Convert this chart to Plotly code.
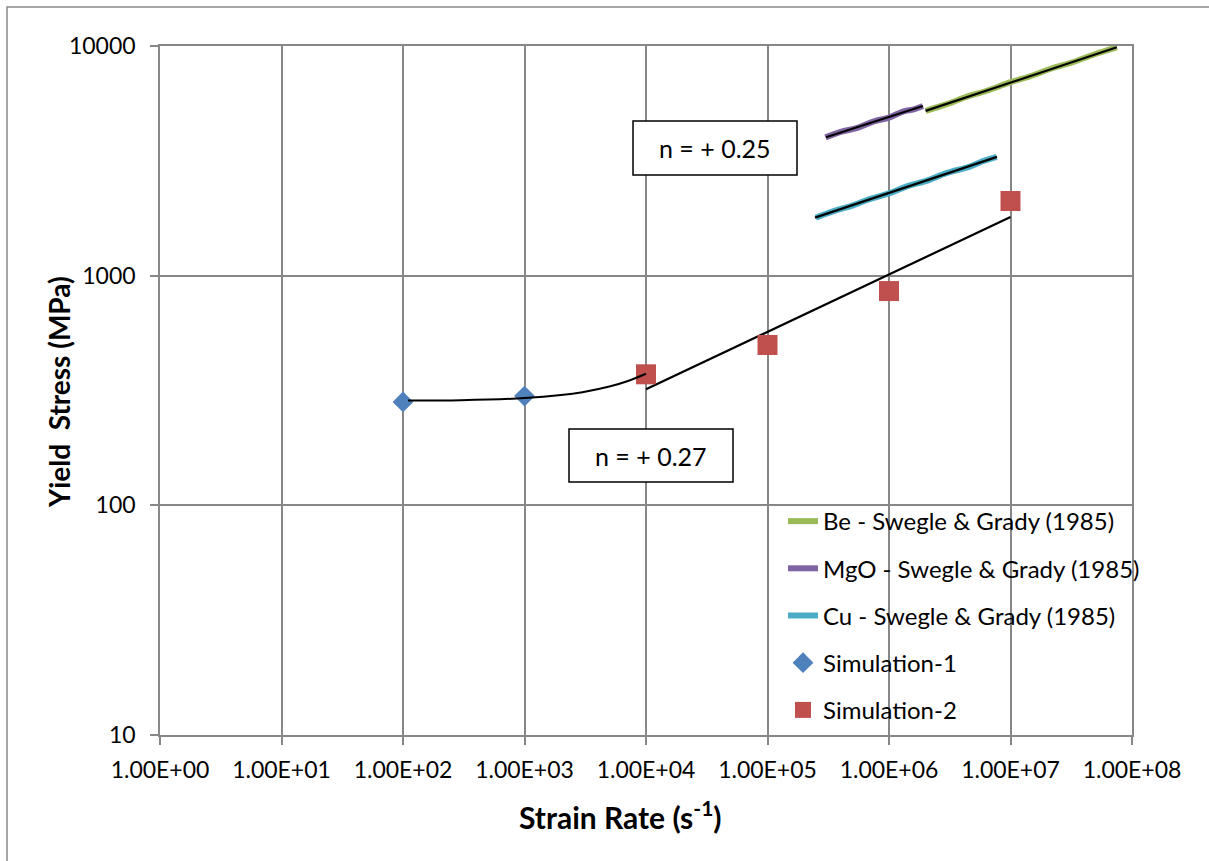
import plotly.graph_objects as go

# ---------------- data ----------------
sim1_rate = [1e2, 1e3]
sim1_stress = [282, 299]

sim2_rate = [1e4, 1e5, 1e6, 1e7]
sim2_stress = [372, 499, 857, 2114]

be_rate = [2.0e6, 3.0e6, 4.5e6, 6.5e6, 1.0e7, 1.5e7, 2.2e7, 3.3e7, 5.0e7, 7.5e7]
be_stress = [5220, 5580, 6050, 6400, 6960, 7420, 8000, 8520, 9230, 9870]

mgo_rate = [3.0e5, 4.0e5, 5.5e5, 7.5e5, 1.0e6, 1.3e6, 1.6e6, 1.9e6]
mgo_stress = [4000, 4230, 4400, 4700, 4880, 5180, 5300, 5480]

cu_rate = [2.5e5, 3.5e5, 5.0e5, 7.0e5, 1.0e6, 1.4e6, 2.0e6, 3.0e6, 4.5e6, 6.0e6, 7.7e6]
cu_stress = [1790, 1910, 2020, 2160, 2280, 2450, 2580, 2800, 2970, 3160, 3290]

# trend lines
fit1_rate = [110, 300, 1000, 2000, 3000, 5000, 7000, 10000]
fit1_stress = [286, 287, 293, 302, 311, 329, 347, 374]
fit2_rate = [1e4, 1e7]
fit2_stress = [320, 1800]
be_fit_rate = [2.0e6, 7.5e7]
be_fit_stress = [5220, 9870]
mgo_fit_rate = [3.03e5, 1.9e6]
mgo_fit_stress = [4005, 5483]
cu_fit_rate = [2.46e5, 7.74e6]
cu_fit_stress = [1789, 3290]

x_tickvals = [1e0, 1e1, 1e2, 1e3, 1e4, 1e5, 1e6, 1e7, 1e8]
x_ticktext = ["1.00E+00", "1.00E+01", "1.00E+02", "1.00E+03", "1.00E+04",
              "1.00E+05", "1.00E+06", "1.00E+07", "1.00E+08"]
y_tickvals = [10, 100, 1000, 10000]
y_ticktext = ["10", "100", "1000", "10000"]

label_fit_top = "n = + 0.25"
label_fit_bottom = "n = + 0.27"

# ---------------- style ----------------
FONT = "Lato"
GRID = "#878787"
C_BE = "#9BBB59"
C_MGO = "#8064A2"
C_CU = "#4BACC6"
C_S1 = "#4F81BD"
C_S2 = "#C0504D"

fig = go.Figure()

for name, xr, yr, col, grp in [
    ("Be - Swegle & Grady (1985)", be_rate, be_stress, C_BE, "g1"),
    ("MgO - Swegle & Grady (1985)", mgo_rate, mgo_stress, C_MGO, "g2"),
    ("Cu - Swegle & Grady (1985)", cu_rate, cu_stress, C_CU, "g3"),
]:
    fig.add_trace(go.Scatter(x=xr, y=yr, mode="lines", name=name, legendgroup=grp,
                             line=dict(color=col, width=6, shape="spline")))

# black trend lines (not in legend)
for xr, yr in [(be_fit_rate, be_fit_stress), (mgo_fit_rate, mgo_fit_stress),
               (cu_fit_rate, cu_fit_stress), (fit2_rate, fit2_stress)]:
    fig.add_trace(go.Scatter(x=xr, y=yr, mode="lines", showlegend=False,
                             line=dict(color="black", width=2.2), hoverinfo="skip"))

fig.add_trace(go.Scatter(x=sim1_rate, y=sim1_stress, mode="markers", name="Simulation-1",
                         legendgroup="g4",
                         marker=dict(symbol="diamond", size=16, color=C_S1)))
fig.add_trace(go.Scatter(x=sim2_rate, y=sim2_stress, mode="markers", name="Simulation-2",
                         legendgroup="g5",
                         marker=dict(symbol="square", size=20, color=C_S2)))
fig.add_trace(go.Scatter(x=fit1_rate, y=fit1_stress, mode="lines", showlegend=False,
                         line=dict(color="black", width=2, shape="spline"), hoverinfo="skip"))

# ---------------- layout ----------------
L, R, T, B = 160, 77, 46, 126
W, H = 1209, 861
pw, ph = W - L - R, H - T - B


def px(xp):
    return (xp - L) / pw


def py(yp):
    return (H - B - yp) / ph


fig.update_layout(
    width=W, height=H,
    margin=dict(l=L, r=R, t=T, b=B, autoexpand=False),
    paper_bgcolor="white", plot_bgcolor="white",
    font=dict(family=FONT, size=23, color="black"),
    showlegend=True,
    legend=dict(x=px(783), y=py(499), xanchor="left", yanchor="top",
                traceorder="grouped", tracegroupgap=13,
                bgcolor="rgba(0,0,0,0)", font=dict(family=FONT, size=24)),
    xaxis=dict(type="log", range=[0, 8], tickvals=x_tickvals, ticktext=x_ticktext,
               showgrid=True, gridcolor=GRID, gridwidth=1.5,
               showline=True, linecolor=GRID, linewidth=1.5, mirror=True,
               ticks="outside", ticklen=8, tickcolor=GRID, tickwidth=1.5,
               ticklabelstandoff=6,
               tickfont=dict(family=FONT, size=23), zeroline=False),
    yaxis=dict(type="log", range=[1, 4], tickvals=y_tickvals, ticktext=y_ticktext,
               showgrid=True, gridcolor=GRID, gridwidth=1.5,
               showline=True, linecolor=GRID, linewidth=1.5, mirror=True,
               ticks="outside", ticklen=8, tickcolor=GRID, tickwidth=1.5,
               ticklabelstandoff=10,
               tickfont=dict(family=FONT, size=23), zeroline=False),
    shapes=[
        dict(type="rect", xref="paper", yref="paper", x0=px(7), x1=px(1230), y0=py(880), y1=py(7),
             line=dict(color="#8a8a8a", width=1.5), fillcolor="rgba(0,0,0,0)", layer="below"),
        dict(type="rect", xref="paper", yref="paper", x0=px(633), x1=px(797), y0=py(175), y1=py(121),
             line=dict(color="black", width=1.5), fillcolor="white"),
        dict(type="rect", xref="paper", yref="paper", x0=px(569), x1=px(733), y0=py(482), y1=py(429),
             line=dict(color="black", width=1.5), fillcolor="white"),
    ],
    annotations=[
        dict(text=label_fit_top, xref="paper", yref="paper", x=px(715), y=py(148),
             xanchor="center", yanchor="middle",
             showarrow=False, font=dict(family=FONT, size=25)),
        dict(text=label_fit_bottom, xref="paper", yref="paper", x=px(651), y=py(455.5),
             xanchor="center", yanchor="middle",
             showarrow=False, font=dict(family=FONT, size=25)),
        dict(text="<b>Strain Rate (s<sup>-1</sup>)</b>", xref="paper", yref="paper",
             x=px(620), y=py(815), xanchor="center", yanchor="middle",
             showarrow=False, font=dict(family=FONT, size=30)),
        dict(text="<b>Yield\u00a0 Stress (MPa)</b>", xref="paper", yref="paper",
             x=px(59), y=py(392), xanchor="center", yanchor="middle",
             showarrow=False, textangle=-90,
             font=dict(family=FONT, size=28)),
    ],
)

fig.write_html("out.html")
